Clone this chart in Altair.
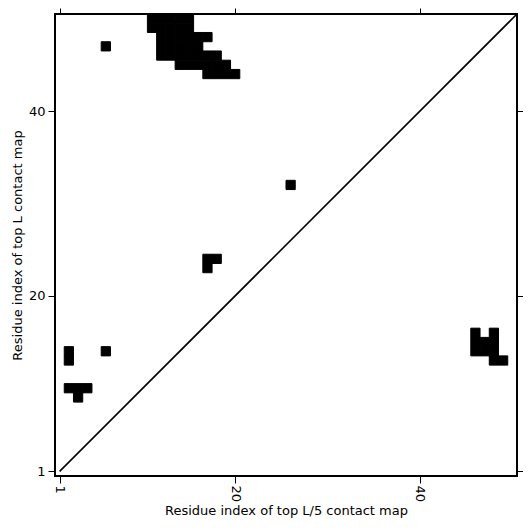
import altair as alt
import pandas as pd

# contact cells: (column index on x = top L/5 map, row index on y = top L map)
contact_x = [11, 12, 13, 14, 15,
             11, 12, 13, 14, 15,
             12, 13, 14, 15, 16, 17,
             12, 13, 14, 15, 16,
             12, 13, 14, 15, 16, 17, 18,
             14, 15, 16, 17, 18, 19,
             17, 18, 19, 20,
             6,
             26,
             17, 18,
             17,
             46, 48,
             46, 47, 48,
             46, 47, 48,
             48, 49,
             2, 6,
             2,
             2, 3, 4,
             3]
contact_y = [50, 50, 50, 50, 50,
             49, 49, 49, 49, 49,
             48, 48, 48, 48, 48, 48,
             47, 47, 47, 47, 47,
             46, 46, 46, 46, 46, 46, 46,
             45, 45, 45, 45, 45, 45,
             44, 44, 44, 44,
             47,
             32,
             24, 24,
             23,
             16, 16,
             15, 15, 15,
             14, 14, 14,
             13, 13,
             14, 14,
             13,
             10, 10, 10,
             9]

diag_x = [1, 50.5]
diag_y = [1, 50.5]
tick_values = [1, 20, 40]

cells = pd.DataFrame({"i": contact_x, "j": contact_y})
diag = pd.DataFrame({"x": diag_x, "y": diag_y})

xscale = alt.Scale(domain=[0.5, 50.5], nice=False, zero=False)
yscale = alt.Scale(domain=[0.5, 50.5], nice=False, zero=False)

rects = alt.Chart(cells).transform_calculate(
    x0="datum.i - 0.5", x1="datum.i + 0.5",
    y0="datum.j - 0.5", y1="datum.j + 0.5",
).mark_rect(fill="black", stroke="black", strokeWidth=1.0,
            fillOpacity=1, strokeOpacity=1).encode(
    x=alt.X("x0:Q", scale=xscale,
            axis=alt.Axis(orient="bottom", values=tick_values, labelAngle=90,
                          title="Residue index of top L/5 contact map",
                          tickSize=7, labelPadding=2, titlePadding=3,
                          domain=False, grid=False)),
    x2="x1:Q",
    y=alt.Y("y0:Q", scale=yscale,
            axis=alt.Axis(orient="left", values=tick_values,
                          title="Residue index of top L contact map",
                          tickSize=7, labelPadding=3, titlePadding=4,
                          domain=False, grid=False)),
    y2="y1:Q",
)

line = alt.Chart(diag).mark_line(color="black", strokeWidth=1.6).encode(
    x=alt.X("x:Q", scale=xscale,
            axis=alt.Axis(orient="top", values=tick_values, labels=False,
                          title=None, tickSize=6, domain=False, grid=False)),
    y=alt.Y("y:Q", scale=yscale,
            axis=alt.Axis(orient="right", values=tick_values, labels=False,
                          title=None, tickSize=6, domain=False, grid=False)),
)

chart = alt.layer(rects, line).resolve_axis(
    x="independent", y="independent"
).properties(
    width=462, height=462,
    autosize=alt.AutoSizeParams(type="none"),
    padding={"left": 47, "top": 6, "right": 6, "bottom": 47},
).configure_view(
    stroke="black", strokeWidth=2
).configure_axis(
    labelFont="DejaVu Sans", labelFontSize=13, labelColor="black",
    titleFont="DejaVu Sans", titleFontSize=13, titleFontWeight="normal",
    titleColor="black", tickColor="black", tickWidth=1,
)

chart.save("out.html", embed_options={"renderer": "svg", "actions": False})
